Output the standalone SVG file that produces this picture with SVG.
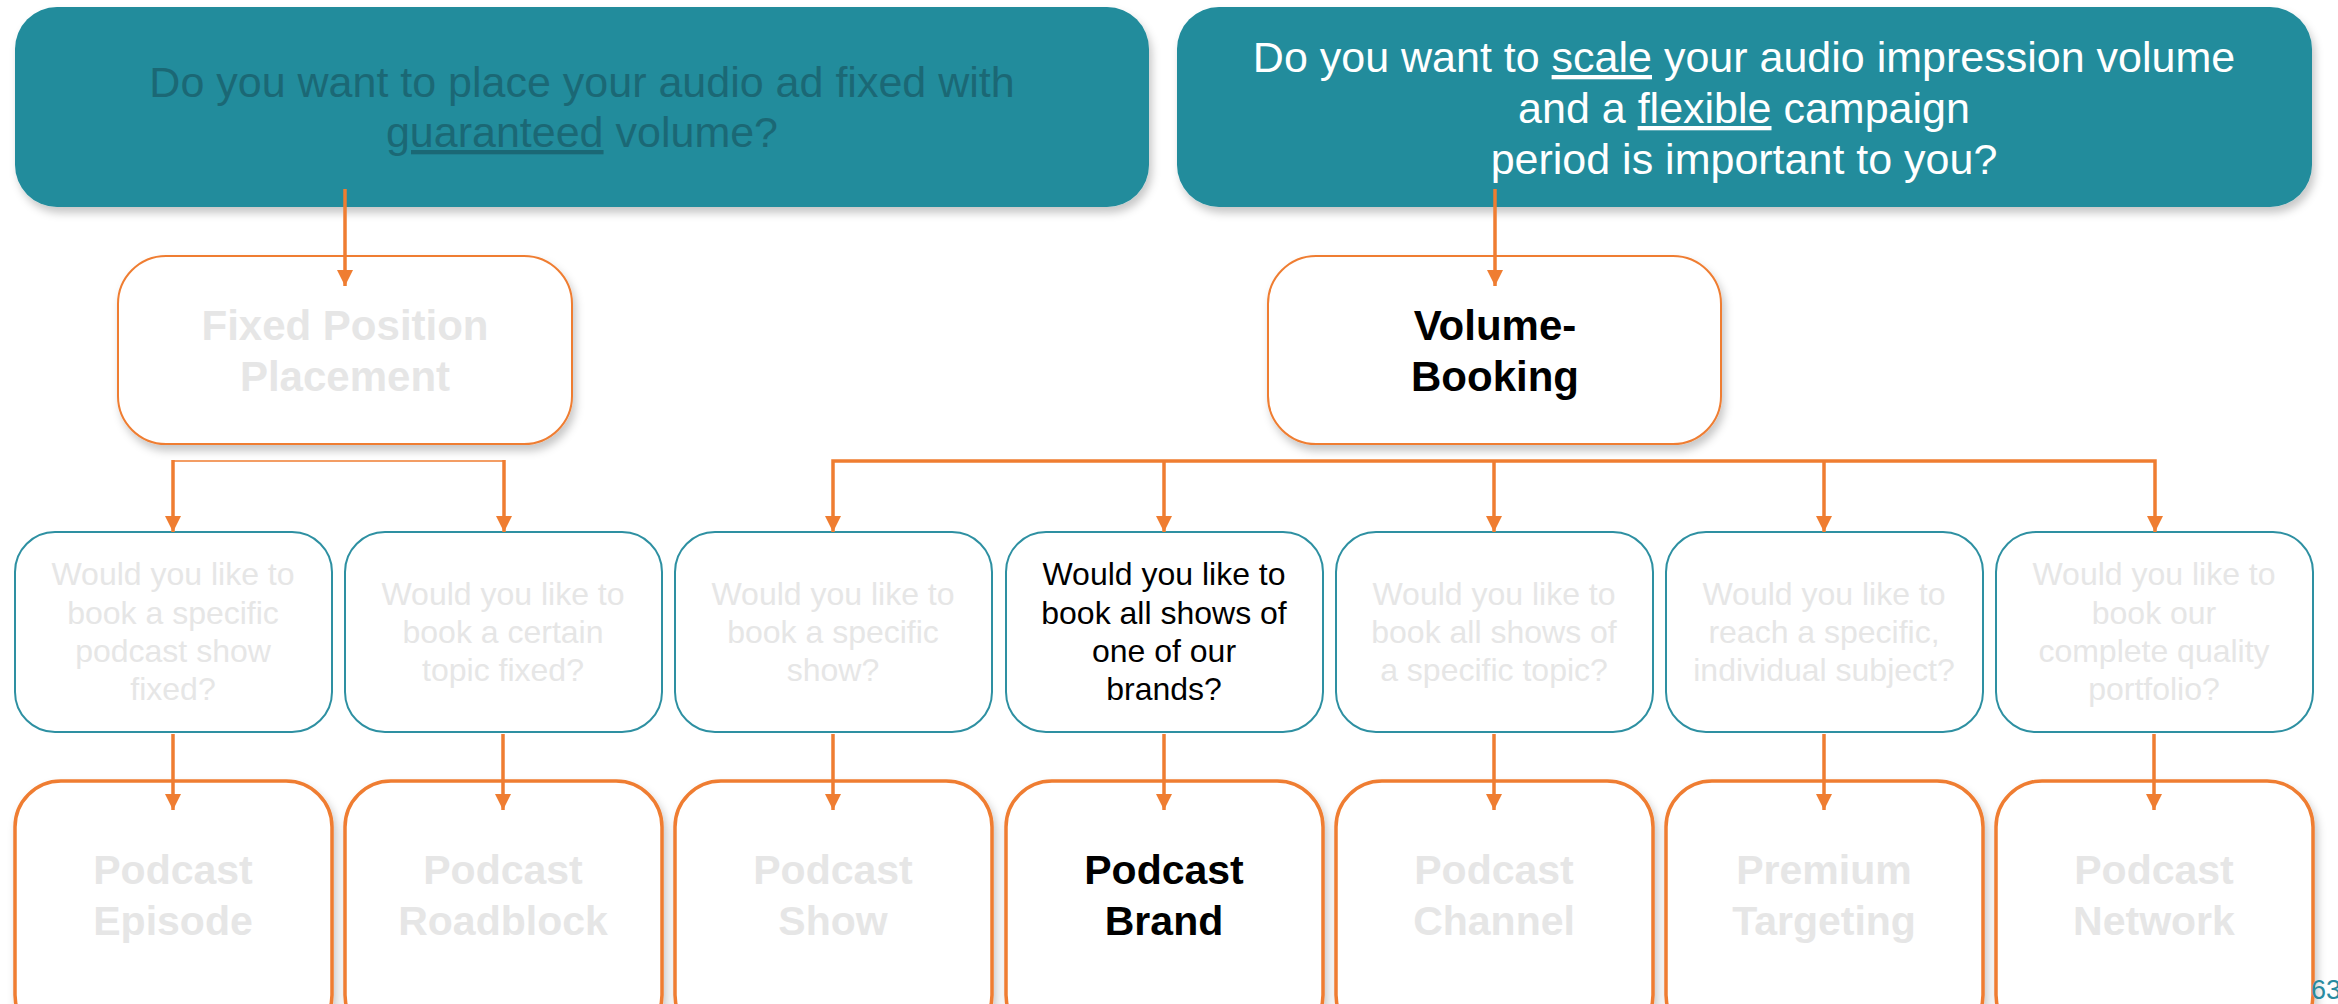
<svg xmlns="http://www.w3.org/2000/svg" width="2338" height="1004" viewBox="0 0 2338 1004">
<style>
.teal{fill:#218c9c;}
.q{fill:#ffffff;stroke:#2e90a2;stroke-width:2;}
.res{fill:#ffffff;stroke:#ef7d31;stroke-width:3.5;}
.mid{fill:#ffffff;stroke:#ef7d31;stroke-width:2;}
.t{font-family:"Liberation Sans",Arial,Helvetica,sans-serif;text-anchor:middle;}
.qt{font-size:32px;}
.bt{font-size:41px;font-weight:bold;}
.mt{font-size:42px;font-weight:bold;}
.ht{font-size:43px;}
.gray{fill:#e6e6e6;}
.blk{fill:#000000;}
.u{text-decoration:underline;}
.ar{stroke:#ef7d31;stroke-width:3.5;fill:none;}
</style>
<defs>
<filter id="sh" x="-10%" y="-10%" width="125%" height="130%">
<feDropShadow dx="3" dy="6" stdDeviation="4" flood-color="#000" flood-opacity="0.22"/>
</filter>
<marker id="ah" markerUnits="userSpaceOnUse" markerWidth="16" markerHeight="16" viewBox="0 0 16 16" refX="16" refY="8" orient="auto-start-reverse">
<path d="M0,0 L16,8 L0,16 Z" fill="#ef7d31"/>
</marker>
</defs>
<rect width="2338" height="1004" fill="#ffffff"/>

<g id="q-fixed">
<rect class="teal" x="15" y="7" width="1134" height="200" rx="42" filter="url(#sh)"/>
<text class="t ht" fill="#1b6875"><tspan x="582" y="97">Do you want to place your audio ad fixed with</tspan><tspan x="582" y="147"><tspan class="u">guaranteed</tspan> volume?</tspan></text>
</g>

<g id="q-volume">
<rect class="teal" x="1177" y="7" width="1135" height="200" rx="42" filter="url(#sh)"/>
<text class="t ht" fill="#ffffff"><tspan x="1744" y="72">Do you want to <tspan class="u">scale</tspan> your audio impression volume</tspan><tspan x="1744" y="123">and a <tspan class="u">flexible</tspan> campaign</tspan><tspan x="1744" y="174">period is important to you?</tspan></text>
</g>

<g id="fixed-position">
<rect class="mid" x="118" y="256" width="454" height="188" rx="48" filter="url(#sh)"/>
<text class="t mt gray"><tspan x="345" y="340">Fixed Position</tspan><tspan x="345" y="391">Placement</tspan></text>
</g>

<g id="volume-booking">
<rect class="mid" x="1268" y="256" width="453" height="188" rx="48" filter="url(#sh)"/>
<text class="t mt blk"><tspan x="1495" y="340">Volume-</tspan><tspan x="1495" y="391">Booking</tspan></text>
</g>

<g id="q1">
<rect class="q" x="15" y="532" width="317" height="200" rx="40"/>
<text class="t qt gray"><tspan x="173" y="585">Would you like to</tspan><tspan x="173" y="624">book a specific</tspan><tspan x="173" y="662">podcast show</tspan><tspan x="173" y="700">fixed?</tspan></text>
</g>
<g id="q2">
<rect class="q" x="345" y="532" width="317" height="200" rx="40"/>
<text class="t qt gray"><tspan x="503" y="605">Would you like to</tspan><tspan x="503" y="643">book a certain</tspan><tspan x="503" y="681">topic fixed?</tspan></text>
</g>
<g id="q3">
<rect class="q" x="675" y="532" width="317" height="200" rx="40"/>
<text class="t qt gray"><tspan x="833" y="605">Would you like to</tspan><tspan x="833" y="643">book a specific</tspan><tspan x="833" y="681">show?</tspan></text>
</g>
<g id="q4">
<rect class="q" x="1006" y="532" width="317" height="200" rx="40"/>
<text class="t qt blk"><tspan x="1164" y="585">Would you like to</tspan><tspan x="1164" y="624">book all shows of</tspan><tspan x="1164" y="662">one of our</tspan><tspan x="1164" y="700">brands?</tspan></text>
</g>
<g id="q5">
<rect class="q" x="1336" y="532" width="317" height="200" rx="40"/>
<text class="t qt gray"><tspan x="1494" y="605">Would you like to</tspan><tspan x="1494" y="643">book all shows of</tspan><tspan x="1494" y="681">a specific topic?</tspan></text>
</g>
<g id="q6">
<rect class="q" x="1666" y="532" width="317" height="200" rx="40"/>
<text class="t qt gray"><tspan x="1824" y="605">Would you like to</tspan><tspan x="1824" y="643">reach a specific,</tspan><tspan x="1824" y="681">individual subject?</tspan></text>
</g>
<g id="q7">
<rect class="q" x="1996" y="532" width="317" height="200" rx="40"/>
<text class="t qt gray"><tspan x="2154" y="585">Would you like to</tspan><tspan x="2154" y="624">book our</tspan><tspan x="2154" y="662">complete quality</tspan><tspan x="2154" y="700">portfolio?</tspan></text>
</g>

<g id="r1">
<rect class="res" x="15" y="781" width="317" height="260" rx="46" filter="url(#sh)"/>
<text class="t bt gray"><tspan x="173" y="884">Podcast</tspan><tspan x="173" y="935">Episode</tspan></text>
</g>
<g id="r2">
<rect class="res" x="345" y="781" width="317" height="260" rx="46" filter="url(#sh)"/>
<text class="t bt gray"><tspan x="503" y="884">Podcast</tspan><tspan x="503" y="935">Roadblock</tspan></text>
</g>
<g id="r3">
<rect class="res" x="675" y="781" width="317" height="260" rx="46" filter="url(#sh)"/>
<text class="t bt gray"><tspan x="833" y="884">Podcast</tspan><tspan x="833" y="935">Show</tspan></text>
</g>
<g id="r4">
<rect class="res" x="1006" y="781" width="317" height="260" rx="46" filter="url(#sh)"/>
<text class="t bt blk"><tspan x="1164" y="884">Podcast</tspan><tspan x="1164" y="935">Brand</tspan></text>
</g>
<g id="r5">
<rect class="res" x="1336" y="781" width="317" height="260" rx="46" filter="url(#sh)"/>
<text class="t bt gray"><tspan x="1494" y="884">Podcast</tspan><tspan x="1494" y="935">Channel</tspan></text>
</g>
<g id="r6">
<rect class="res" x="1666" y="781" width="317" height="260" rx="46" filter="url(#sh)"/>
<text class="t bt gray"><tspan x="1824" y="884">Premium</tspan><tspan x="1824" y="935">Targeting</tspan></text>
</g>
<g id="r7">
<rect class="res" x="1996" y="781" width="317" height="260" rx="46" filter="url(#sh)"/>
<text class="t bt gray"><tspan x="2154" y="884">Podcast</tspan><tspan x="2154" y="935">Network</tspan></text>
</g>

<g id="connectors">
<line class="ar" x1="345" y1="189" x2="345" y2="286" marker-end="url(#ah)"/>
<line class="ar" x1="1495" y1="189" x2="1495" y2="286" marker-end="url(#ah)"/>
<line x1="173" y1="461" x2="504" y2="461" stroke="#ef7d31" stroke-width="1.5"/>
<line class="ar" x1="173" y1="460" x2="173" y2="532" marker-end="url(#ah)"/>
<line class="ar" x1="504" y1="460" x2="504" y2="532" marker-end="url(#ah)"/>
<polyline class="ar" points="833,532 833,461 2155,461 2155,532" stroke-width="4" marker-start="url(#ah)" marker-end="url(#ah)"/>
<line class="ar" x1="1164" y1="461" x2="1164" y2="532" marker-end="url(#ah)"/>
<line class="ar" x1="1494" y1="461" x2="1494" y2="532" marker-end="url(#ah)"/>
<line class="ar" x1="1824" y1="461" x2="1824" y2="532" marker-end="url(#ah)"/>
<line class="ar" x1="173" y1="734" x2="173" y2="810" marker-end="url(#ah)"/>
<line class="ar" x1="503" y1="734" x2="503" y2="810" marker-end="url(#ah)"/>
<line class="ar" x1="833" y1="734" x2="833" y2="810" marker-end="url(#ah)"/>
<line class="ar" x1="1164" y1="734" x2="1164" y2="810" marker-end="url(#ah)"/>
<line class="ar" x1="1494" y1="734" x2="1494" y2="810" marker-end="url(#ah)"/>
<line class="ar" x1="1824" y1="734" x2="1824" y2="810" marker-end="url(#ah)"/>
<line class="ar" x1="2154" y1="734" x2="2154" y2="810" marker-end="url(#ah)"/>
</g>

<text x="2311" y="999" font-family="Liberation Sans,Arial,sans-serif" font-size="27" fill="#2a8ba0">63</text>
</svg>
